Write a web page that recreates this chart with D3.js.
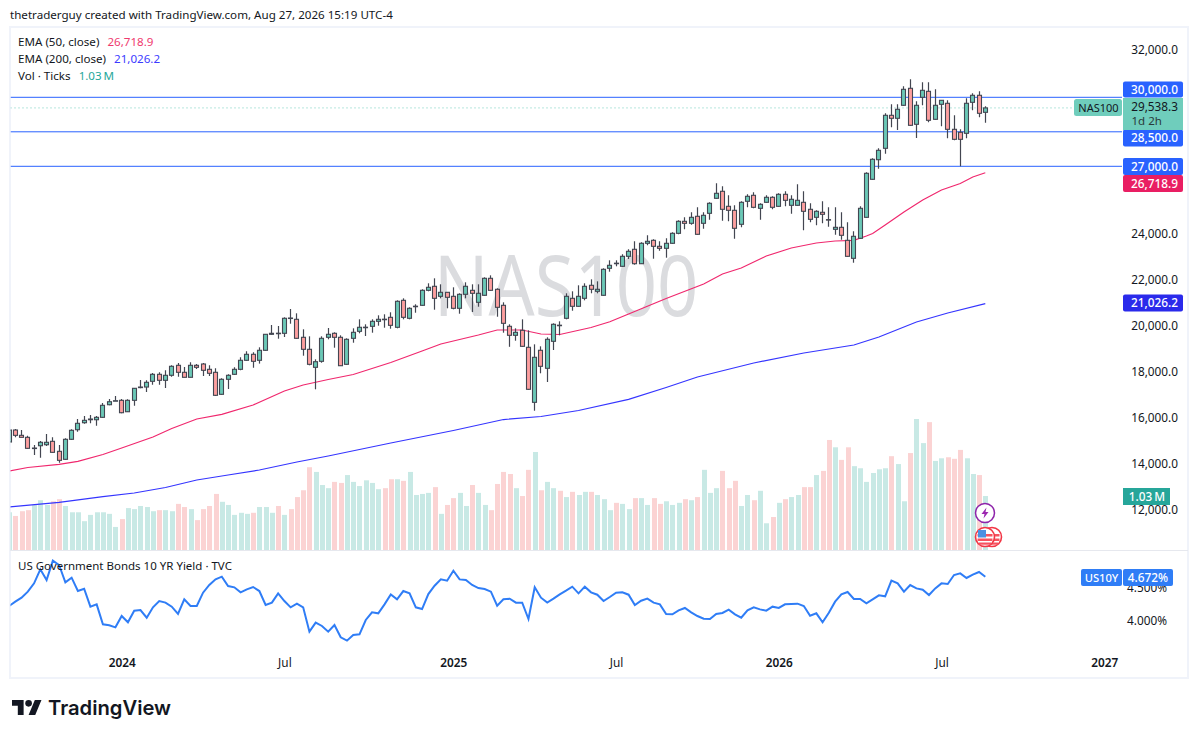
<!DOCTYPE html>
<html>
<head>
<meta charset="utf-8">
<script src="https://cdn.jsdelivr.net/npm/d3@7"></script>
<style>
  html, body { margin: 0; padding: 0; background: #fff; }
  text { font-family: "Noto Sans", sans-serif; }
</style>
</head>
<body>
<script>
// weekly bars, first one is cut off by the left edge of the pane
const barNumbers = d3.range(-1, 156);

const opens = [15012,
  15534,15303,15216,14738,14851,14894,15042,14607,14260,15130,
  15547,15851,15981,15981,16086,16634,16800,16825,16329,16825,
  17377,17403,17652,17956,17695,17913,18347,18043,17826,18347,
  18404,18173,18043,17086,17739,17956,18173,18565,18826,18565,
  19000,19695,19743,19739,20404,20347,19565,19043,18260,18521,
  19565,19739,19565,18391,19521,19825,19990,20043,20260,20352,
  20434,20000,21173,20391,20904,20956,21608,21782,21347,21521,
  21347,20826,21434,21608,21086,21391,22130,21652,20956,20043,
  19652,19869,19130,16738,19000,18217,19391,20091,20391,21260,
  20913,21260,21826,21565,21391,22565,22787,22652,23086,23391,
  22765,23652,23782,23521,23434,23652,24086,24608,24521,24826,
  24521,24956,25608,25913,25260,25086,24478,25478,25739,25173,
  25434,25652,25260,25782,25304,25304,25434,25130,24782,25000,
  24682,24260,24347,23782,22999,23869,24782,26434,27287,27782,
  29217,29087,29652,30391,28826,30000,30260,29043,29695,29739,
  28608,28478,28434,29782,30087,29347];

const highs = [15534,
  15577,15534,15286,14881,15055,15360,15216,14881,15173,15564,
  16012,16142,16186,16142,16708,16881,17012,16881,16868,17360,
  17708,17695,18012,18043,18130,18347,18447,18273,18478,18404,
  18447,18347,18217,17782,17956,18260,18695,18956,18913,19130,
  19695,20099,20056,20434,20795,20608,19913,19608,18608,19608,
  19969,19782,19652,19521,19956,20347,20130,20347,20521,20565,
  20652,21173,21260,20869,21000,21652,21913,22130,21869,21521,
  21739,21478,21956,21869,21869,22173,22260,21695,21086,20130,
  19956,20347,19869,19260,19173,19565,20173,20260,21478,21565,
  21826,21913,22086,21999,22565,22913,22913,23173,23391,23739,
  23695,24000,23826,23739,23869,24130,24652,24782,25000,25217,
  25000,25434,26260,26130,25739,25304,25478,25782,25869,25391,
  25739,25695,25826,25913,25739,26217,25913,25391,25086,25478,
  25217,25217,25000,24565,24173,25260,26738,27347,27782,29304,
  29695,29695,30478,30782,29826,30652,30652,30347,29869,29869,
  29217,28608,29956,30173,30260,29608];

const lows = [15012,
  15216,15216,14720,14447,14325,14838,14546,14112,14242,15099,
  15460,15808,15825,15721,16069,16608,16795,16260,16316,16590,
  17347,17186,17504,17504,17360,17852,17852,17826,17826,18186,
  17882,17882,17012,17069,17317,17925,18130,18547,18243,18421,
  18982,19678,19504,19578,20156,19504,18765,18347,17304,18460,
  19478,19113,18317,18373,19330,19739,19621,19765,20069,19982,
  19939,19956,20347,20347,20634,20939,21565,20765,21260,20826,
  20782,20591,21260,20665,20895,21373,21591,20460,19765,19152,
  19417,19152,17273,16373,18000,17621,19013,19652,20347,20721,
  20895,21173,21478,21478,21373,22417,22652,22634,22969,22722,
  22752,23565,22982,23330,23026,23634,24043,24260,24460,24026,
  24286,24678,25590,24634,24608,23852,24347,25217,25173,24678,
  25417,25130,25243,25260,24938,25286,24217,24565,24434,24521,
  24373,24026,23808,23069,22808,23852,24765,26417,26895,27548,
  28695,28578,29634,28765,28230,29652,28913,29026,28739,28217,
  28130,26999,28217,29434,29130,28890];

const closes = [15534,
  15303,15216,14738,14750,15000,15000,14564,14216,15130,15521,
  15825,15955,16012,16086,16608,16764,16808,16286,16825,17347,
  17403,17608,17956,17695,17913,18304,18043,17826,18347,18260,
  18130,18000,17043,17739,17913,18173,18565,18826,18521,19000,
  19695,19739,19730,20391,20387,19521,19043,18391,18504,19521,
  19695,19565,18330,19478,19782,20000,20004,20260,20347,20339,
  20086,21130,20434,20826,20917,21608,21739,21260,21521,21304,
  20826,21434,21782,21478,21478,22130,21608,20869,20173,19652,
  19782,19173,17304,18695,18304,19478,20130,20078,21347,20913,
  21347,21782,21652,21652,22521,22695,22774,23086,23304,22765,
  23652,23739,23521,23434,23652,24086,24608,24521,24782,24043,
  24869,25391,25826,25130,25086,24304,25434,25695,25217,25347,
  25652,25217,25782,25521,25565,25521,25043,24695,25043,24913,
  24665,24347,24000,23086,23956,25173,26695,27304,27695,29217,
  29087,29478,30347,28782,29652,30304,29000,29652,29869,28608,
  28173,28173,29739,30087,29304,29538.3];

// tick volume, millions
const volumes = [0.72,
  .65,.74,.76,.86,.95,.86,.93,.97,.84,.72,
  .72,.55,.67,.72,.72,.69,.44,.59,.80,.78,
  .84,.82,.74,.76,.76,.74,.88,.82,.78,.57,
  .78,.84,1.07,.92,.86,.67,.71,.69,.71,.82,
  .82,.71,.84,.67,.78,1.01,1.14,1.58,1.49,1.24,
  1.18,1.30,1.28,1.43,1.30,1.22,1.33,1.28,1.16,1.18,
  1.35,1.35,1.32,1.49,1.05,1.07,1.09,1.20,.69,.86,
  .99,1.09,.84,1.24,1.09,.86,.76,1.26,1.49,1.45,
  1.18,1.03,1.53,1.87,1.14,1.30,1.18,1.13,1.01,1.11,
  1.05,1.11,1.11,1.05,.97,.76,.90,.88,.78,.99,
  .99,.86,.99,.88,.93,.86,.90,.97,.95,1.01,
  1.53,1.09,1.18,1.51,1.18,1.32,.84,1.05,.95,1.13,
  .51,.63,.90,.97,1.01,1.05,1.20,1.20,1.43,1.51,
  2.10,1.96,1.72,1.96,1.60,1.56,1.30,1.47,1.54,1.56,
  1.79,1.64,.93,1.85,2.50,2.04,2.44,1.70,1.75,1.77,
  1.74,1.91,1.75,1.45,1.43,1.03];

// US10Y weekly close
const yields = [4.222,
  4.289,4.350,4.442,4.570,4.785,4.621,4.918,4.851,4.585,4.657,
  4.452,4.488,4.212,4.248,3.941,3.926,3.895,4.069,3.972,4.151,
  4.161,4.043,4.202,4.299,4.274,4.212,4.100,4.325,4.222,4.222,
  4.427,4.545,4.631,4.672,4.529,4.509,4.432,4.478,4.514,4.452,
  4.238,4.274,4.417,4.299,4.202,4.258,4.202,3.829,3.967,3.916,
  3.829,3.931,3.742,3.691,3.778,3.788,4.008,4.125,4.110,4.248,
  4.401,4.325,4.452,4.417,4.202,4.176,4.406,4.534,4.631,4.611,
  4.764,4.631,4.621,4.545,4.498,4.483,4.442,4.228,4.325,4.335,
  4.274,4.274,4.023,4.509,4.350,4.274,4.335,4.401,4.458,4.519,
  4.417,4.519,4.432,4.396,4.299,4.360,4.427,4.432,4.396,4.238,
  4.304,4.335,4.274,4.248,4.100,4.095,4.156,4.192,4.125,4.069,
  4.028,4.023,4.100,4.115,4.166,4.095,4.043,4.156,4.202,4.171,
  4.151,4.212,4.192,4.248,4.253,4.258,4.222,4.074,4.110,3.972,
  4.120,4.289,4.401,4.437,4.330,4.330,4.263,4.325,4.386,4.371,
  4.611,4.570,4.442,4.544,4.493,4.473,4.391,4.493,4.570,4.560,
  4.698,4.723,4.652,4.703,4.744,4.672];

const ema50Bars = [-1,2,7,10,14,17,22,25,29,33,38,43,46,50,54,60,65,68,74,77,81,84,87,92,95,98,104,110,113,116,120,124,128,131,134,136,137,139,142,145,148,151,153,155];
const ema50Values = [13751,13904,14043,14173,14469,14751,15229,15599,16012,16216,16621,17230,17491,17730,17947,18469,18969,19273,19665,19882,19882,19708,19686,19991,20243,20578,21252,21882,22317,22578,23100,23447,23665,23752,23778,23969,24077,24447,25012,25534,25969,26252,26534,26718.9];

const ema200Bars = [-1,7,14,19,24,29,34,39,45,50,60,70,78,84,90,98,104,109,118,126,134,138,144,149,155];
const ema200Values = [12187,12391,12635,12796,13035,13360,13578,13795,14143,14404,14969,15513,15990,16121,16382,16869,17382,17839,18447,18882,19230,19578,20230,20621,21026.2];

const priceTicks = [12000,14000,16000,18000,20000,22000,24000,32000];
const levelLines = [27000,28500,30000];
const yieldTicks = [4.0,4.5];
const timeTickBars = [17,43,70,96,122,148,174];
const timeLabels = ["2024","Jul","2025","Jul","2026","Jul","2027"];
const boldTimeLabels = ["2024","2025","2026","2027"];

const lastPrice = 29538.3, ema50Last = 26718.9, ema200Last = 21026.2, lastVolume = 1.03, lastYield = 4.672;

const upFill = "#6bc8b6", downFill = "#fd9f9f", wickColor = "#434651";
const upVol = "#c8e9e5", downVol = "#fbd3d3";
const lineBlue = "#2962ff", ema50Color = "#f0286e", ema200Color = "#3535ff", yieldColor = "#2f7df6";

const W = 1198, H = 738;
const paneLeft = 10.5, paneRight = 1122;

const svg = d3.select("body").append("svg").attr("width", W).attr("height", H)
  .style("display", "block");

const x = d3.scaleLinear().domain([0, 155]).range([15.3, 985.3]);
const y = d3.scaleLinear().domain([12000, 32000]).range([511.3, 51.3]);
const yVol = d3.scaleLinear().domain([0, 2.5]).range([550, 419]);
const yYield = d3.scaleLinear().domain([4, 4.672]).range([620.5, 576.7]);
const snap = v => Math.floor(v) + 0.5;

svg.append("text").attr("x", 10).attr("y", 19).attr("font-size", 11.6).attr("fill", "#131722")
  .text("thetraderguy created with TradingView.com, Aug 27, 2026 15:19 UTC-4");

// frame
svg.append("rect").attr("x", 10).attr("y", 27).attr("width", 1178).attr("height", 651)
  .attr("fill", "none").attr("stroke", "#f0f3fa").attr("stroke-width", 2);
svg.append("line").attr("x1", 10).attr("x2", 1188).attr("y1", 550.5).attr("y2", 550.5)
  .attr("stroke", "#e6e8ee").attr("stroke-width", 1);

svg.append("defs").append("clipPath").attr("id", "pane").append("rect")
  .attr("x", paneLeft).attr("y", 28).attr("width", paneRight - paneLeft).attr("height", 522);

// watermark, TradingView's face is narrower than Noto
svg.append("text").attr("transform", "translate(566,316) scale(0.86,1)").attr("text-anchor", "middle")
  .attr("font-size", 84).attr("fill", "#dbdcdf").text("NAS100");

const pane = svg.append("g").attr("clip-path", "url(#pane)");

// volume
pane.selectAll(".vol").data(barNumbers).enter().append("rect")
  .attr("class", "vol")
  .attr("x", (d, i) => Math.round(x(d)) - 2.5 + 0.5)
  .attr("width", 5)
  .attr("y", (d, i) => yVol(volumes[i]))
  .attr("height", (d, i) => 550 - yVol(volumes[i]))
  .attr("fill", (d, i) => closes[i] >= opens[i] ? upVol : downVol);

// horizontal levels
pane.selectAll(".level").data(levelLines).enter().append("line")
  .attr("x1", paneLeft).attr("x2", paneRight)
  .attr("y1", d => y(d)).attr("y2", d => y(d))
  .attr("stroke", lineBlue).attr("stroke-width", 1);
pane.append("line").attr("x1", paneLeft).attr("x2", 1075)
  .attr("y1", y(lastPrice)).attr("y2", y(lastPrice))
  .attr("stroke", "#6fcdbc").attr("stroke-width", 1).attr("stroke-dasharray", "1 3");

// EMAs
const emaLine = d3.line().x(d => x(d[0])).y(d => y(d[1]));
pane.append("path").attr("d", emaLine(d3.zip(ema50Bars, ema50Values)))
  .attr("fill", "none").attr("stroke", ema50Color).attr("stroke-width", 1.2);
pane.append("path").attr("d", emaLine(d3.zip(ema200Bars, ema200Values)))
  .attr("fill", "none").attr("stroke", ema200Color).attr("stroke-width", 1.2);

// candles
pane.selectAll(".wick").data(barNumbers).enter().append("line")
  .attr("class", "wick")
  .attr("x1", d => snap(x(d))).attr("x2", d => snap(x(d)))
  .attr("y1", (d, i) => y(highs[i])).attr("y2", (d, i) => y(lows[i]))
  .attr("stroke", wickColor).attr("stroke-width", 1.2);
pane.selectAll(".body").data(barNumbers).enter().append("rect")
  .attr("class", "body")
  .attr("x", d => snap(x(d)) - 2)
  .attr("width", 4)
  .attr("y", (d, i) => y(Math.max(opens[i], closes[i])))
  .attr("height", (d, i) => Math.max(0.5, Math.abs(y(opens[i]) - y(closes[i]))))
  .attr("fill", (d, i) => closes[i] >= opens[i] ? upFill : downFill)
  .attr("stroke", wickColor).attr("stroke-width", 1.1);

// event icons at the last bar
const bolt = svg.append("g").attr("transform", "translate(985,513)");
bolt.append("circle").attr("r", 9.5).attr("fill", "#fff").attr("stroke", "#8e24aa").attr("stroke-width", 1.5);
bolt.append("path").attr("d", "M1.5,-5.5 L-3.5,1 L-0.5,1 L-1.5,5.5 L3.5,-1 L0.5,-1 Z").attr("fill", "#9c27b0");

[[992, 0], [985, 1]].forEach(([cx, front]) => {
  const g = svg.append("g").attr("transform", `translate(${cx},537)`);
  g.append("circle").attr("r", 9.5).attr("fill", "#fff").attr("stroke", "#f23645").attr("stroke-width", 1.6);
  g.append("rect").attr("x", -7.5).attr("y", -3).attr("width", 15).attr("height", 2.5).attr("fill", "#f7525f");
  g.append("rect").attr("x", -7.5).attr("y", 1.5).attr("width", 15).attr("height", 2.5).attr("fill", "#f7525f");
  g.append("rect").attr("x", -6).attr("y", 5.5).attr("width", 12).attr("height", 2.2).attr("fill", "#f7525f");
  if (front) g.append("rect").attr("x", -7).attr("y", -7).attr("width", 8).attr("height", 7.5).attr("fill", "#4a90e2");
});

// price axis
const priceAxis = d3.axisRight(y).tickValues(priceTicks).tickSize(0).tickPadding(0)
  .tickFormat(d => d3.format(",.1f")(d));
const priceG = svg.append("g").attr("transform", "translate(1178,0)").call(priceAxis);
priceG.select(".domain").remove();
priceG.selectAll("text").attr("text-anchor", "end").attr("dy", "0.32em")
  .attr("y", -2).attr("font-size", 11.8).attr("fill", "#131722").style("font-family", "'Noto Sans', sans-serif");

// yield axis
const yieldAxis = d3.axisRight(yYield).tickValues(yieldTicks).tickSize(0).tickPadding(0)
  .tickFormat(d => d3.format(".3f")(d) + "%");
const yieldG = svg.append("g").attr("transform", "translate(1167,0)").call(yieldAxis);
yieldG.select(".domain").remove();
yieldG.selectAll("text").attr("text-anchor", "end").attr("dy", "0.32em")
  .attr("font-size", 11.8).attr("fill", "#131722").style("font-family", "'Noto Sans', sans-serif");

// yield line
svg.append("defs").append("clipPath").attr("id", "lower").append("rect")
  .attr("x", paneLeft).attr("y", 551).attr("width", paneRight - paneLeft).attr("height", 126);
const yieldLine = d3.line().x((d, i) => x(barNumbers[i])).y(d => yYield(d));
svg.append("g").attr("clip-path", "url(#lower)").append("path")
  .attr("d", yieldLine(yields)).attr("fill", "none")
  .attr("stroke", yieldColor).attr("stroke-width", 2);

// time axis
const timeAxis = d3.axisBottom(x).tickValues(timeTickBars).tickSize(0).tickPadding(0)
  .tickFormat((d, i) => timeLabels[i]);
const timeG = svg.append("g").attr("transform", "translate(0,659)").call(timeAxis);
timeG.select(".domain").remove();
timeG.selectAll("text").attr("font-size", 11.8).attr("fill", "#131722")
  .attr("font-weight", (d, i) => boldTimeLabels.includes(timeLabels[i]) ? 600 : 400)
  .style("font-family", "'Noto Sans', sans-serif");

// right side badges
function badge(bx, cy, w, h, fill, label, color) {
  svg.append("rect").attr("x", bx).attr("y", cy - h / 2).attr("width", w).attr("height", h)
    .attr("rx", 2).attr("fill", fill);
  svg.append("text").attr("x", bx + w - 5).attr("y", cy).attr("dy", "0.35em")
    .attr("text-anchor", "end").attr("font-size", 11.8).attr("font-weight", 500).attr("fill", color).text(label);
}
const fmt = d3.format(",.1f");
badge(1123, 89.5, 60, 16, lineBlue, fmt(levelLines[2]), "#fff");
badge(1123, 138, 60, 17, lineBlue, fmt(levelLines[1]), "#fff");
badge(1123, 166.5, 60, 17, lineBlue, fmt(levelLines[0]), "#fff");
badge(1123, 183.5, 60, 17, "#e91e63", fmt(ema50Last), "#fff");
badge(1123, 303, 60, 17, "#2a2aeb", fmt(ema200Last), "#fff");

// last price tag
svg.append("rect").attr("x", 1123).attr("y", 98).attr("width", 60).attr("height", 32).attr("fill", "#6fcdbc");
svg.append("text").attr("x", 1178).attr("y", 111).attr("text-anchor", "end").attr("font-size", 11.8).attr("fill", "#131722").text(fmt(lastPrice));
svg.append("text").attr("x", 1131.5).attr("y", 125).attr("font-size", 11.5).attr("fill", "#2a3a3a").text("1d 2h");
svg.append("rect").attr("x", 1074).attr("y", 99).attr("width", 48).attr("height", 17).attr("rx", 2.5).attr("fill", "#6fcdbc");
svg.append("text").attr("x", 1098.5).attr("y", 112).attr("text-anchor", "middle").attr("font-size", 11).attr("fill", "#131722").text("NAS100");

// volume tag
svg.append("rect").attr("x", 1123).attr("y", 488).attr("width", 47).attr("height", 17).attr("fill", "#26a69a");
svg.append("text").attr("x", 1165).attr("y", 501).attr("text-anchor", "end").attr("font-size", 11.8).attr("font-weight", 500).attr("fill", "#fff").text(lastVolume + "\u2009M");

// yield tags
svg.append("rect").attr("x", 1081).attr("y", 569).attr("width", 41).attr("height", 17).attr("rx", 2).attr("fill", yieldColor);
svg.append("text").attr("x", 1101.5).attr("y", 582).attr("text-anchor", "middle").attr("font-size", 11.2).attr("font-weight", 500).attr("fill", "#fff").text("US10Y");
svg.append("rect").attr("x", 1123).attr("y", 569).attr("width", 50).attr("height", 17).attr("rx", 2).attr("fill", yieldColor);
svg.append("text").attr("x", 1168).attr("y", 582).attr("text-anchor", "end").attr("font-size", 11.8).attr("font-weight", 500).attr("fill", "#fff").text(d3.format(".3f")(lastYield) + "%");

// legends
const legend = [
  ["EMA (50, close)", fmt(ema50Last), "#ef3a6e", 42],
  ["EMA (200, close)", fmt(ema200Last), "#3b3bff", 59],
  ["Vol \u00b7 Ticks", lastVolume + "\u2009M", "#26a69a", 76]
];
legend.forEach(([name, val, color, ly]) => {
  const t = svg.append("text").attr("x", 18).attr("y", ly + 4).attr("font-size", 11.6).attr("fill", "#131722");
  t.append("tspan").text(name);
  t.append("tspan").attr("dx", 8).attr("fill", color).text(val);
});
svg.append("text").attr("x", 18).attr("y", 570).attr("font-size", 11.5).attr("fill", "#131722")
  .text("US Government Bonds 10 YR Yield \u00b7 TVC");

// footer logo
svg.append("path").attr("transform", "translate(12,696.7) scale(0.83)")
  .attr("d", "M14 22H7V11H0V4h14v18zM28 22h-8l7.5-18h8L28 22z").attr("fill", "#131722");
svg.append("circle").attr("cx", 12 + 20 * 0.83).attr("cy", 696.7 + 8 * 0.83).attr("r", 3.3).attr("fill", "#131722");
svg.append("text").attr("x", 48).attr("y", 715).attr("font-size", 20.2).attr("font-weight", 600)
  .style("font-family", "Inter, sans-serif").attr("fill", "#131722").text("TradingView");
</script>
</body>
</html>
